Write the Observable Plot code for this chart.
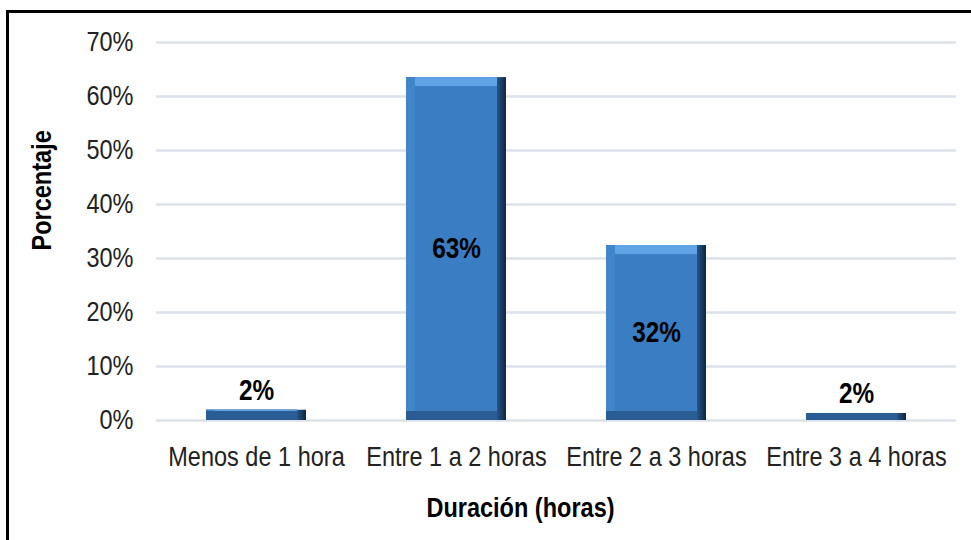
<!DOCTYPE html>
<html>
<head>
<meta charset="utf-8">
<script src="https://cdn.jsdelivr.net/npm/d3@7"></script>
<script src="https://cdn.jsdelivr.net/npm/@observablehq/plot@0.6"></script>
<style>
  html, body { margin: 0; padding: 0; background: #fff; }
  #wrap { position: relative; width: 971px; height: 540px; }
  #frame { position: absolute; left: 6px; top: 10px; width: 965px; height: 530px;
           border-left: 3px solid #000; border-top: 3px solid #000; box-sizing: border-box; pointer-events: none; }
  #chart { position: absolute; left: 0; top: 0; }
</style>
</head>
<body>
<div id="wrap"><div id="chart"></div><div id="frame"></div></div>
<script>
const categories = ["Menos de 1 hora", "Entre 1 a 2 horas", "Entre 2 a 3 horas", "Entre 3 a 4 horas"];
const values = [1.9, 63.5, 32.4, 1.3];
const valueLabels = ["2%", "63%", "32%", "2%"];
const yTicks = [0, 10, 20, 30, 40, 50, 60, 70];
const xTitle = "Duración (horas)";
const yTitle = "Porcentaje";

const data = categories.map((c, i) => ({cat: c, v: values[i], label: valueLabels[i]}));

const family = '"Liberation Sans", Arial, sans-serif';
const fs = 28;
const condense = 0.84;

const b = 9;
const inside = data.filter(d => d.v >= 10);
const outside = data.filter(d => d.v < 10);

const chart = Plot.plot({
  width: 971,
  height: 540,
  marginLeft: 156,
  marginRight: 15,
  marginTop: 42,
  marginBottom: 120,
  style: {fontFamily: family, fontSize: fs + "px", color: "#222", background: "transparent"},
  x: {type: "band", domain: categories, paddingInner: 0.5, paddingOuter: 0.25, label: null},
  y: {domain: [0, 70], ticks: yTicks, label: null},
  marks: [
    Plot.gridY(yTicks, {stroke: "#dde2ea", strokeOpacity: 1, strokeWidth: 2.5}),
    Plot.axisY({ticks: yTicks, tickSize: 0, tickPadding: 23, tickFormat: d => d + "%", fontSize: fs, fill: "#222", label: null}),
    Plot.axisX({tickSize: 0, tickPadding: 26, fontSize: fs, fill: "#222", label: null}),
    // bevelled bars, built up as inset layers
    Plot.barY(data, {x: "cat", y: "v", fill: "url(#rightBevel)"}),
    Plot.barY(data, {x: "cat", y: "v", fill: "#2a5d93", insetRight: b}),
    Plot.barY(data, {x: "cat", y: "v", fill: "#4186cb", insetRight: b, insetBottom: b}),
    Plot.barY(data, {x: "cat", y: "v", fill: "#60a4e6", insetLeft: b, insetRight: b, insetBottom: b}),
    Plot.barY(data, {x: "cat", y: "v", fill: "#3a7dc3", insetLeft: b, insetRight: b, insetTop: b, insetBottom: b}),
    Plot.text(inside, {x: "cat", y: d => d.v / 2, text: "label", fontWeight: "bold", fontSize: fs + 1, fill: "#000", lineAnchor: "middle"}),
    Plot.text(outside, {x: "cat", y: "v", text: "label", fontWeight: "bold", fontSize: fs + 1, fill: "#000", lineAnchor: "middle", dy: -20}),
    Plot.text([yTitle], {frameAnchor: "left", rotate: -90, dx: -114, dy: 19, fontWeight: "bold", fontSize: fs, fill: "#000", lineAnchor: "middle"}),
    Plot.text([xTitle], {frameAnchor: "bottom", dx: -36, dy: 88, fontWeight: "bold", fontSize: fs, fill: "#000", lineAnchor: "middle"})
  ]
});
document.getElementById("chart").appendChild(chart);

// gradient for the dark right-hand bevel
const ns = "http://www.w3.org/2000/svg";
const defs = document.createElementNS(ns, "defs");
defs.innerHTML = '<linearGradient id="rightBevel" x1="0" x2="1" y1="0" y2="0">' +
  '<stop offset="0" stop-color="#2a5d93"/><stop offset="0.9" stop-color="#2a5d93"/>' +
  '<stop offset="0.92" stop-color="#24507f"/><stop offset="1" stop-color="#0f263f"/></linearGradient>';
chart.insertBefore(defs, chart.firstChild);

// condense text horizontally (about its anchor) to mimic the narrow typeface of the original
chart.querySelectorAll("text").forEach(t => {
  const x = parseFloat(t.getAttribute("x")) || 0;
  const y = parseFloat(t.getAttribute("y")) || 0;
  const tr = t.getAttribute("transform") || "";
  t.setAttribute("transform", `${tr} translate(${x},${y}) scale(${condense},1) translate(${-x},${-y})`.trim());
});
</script>
</body>
</html>
